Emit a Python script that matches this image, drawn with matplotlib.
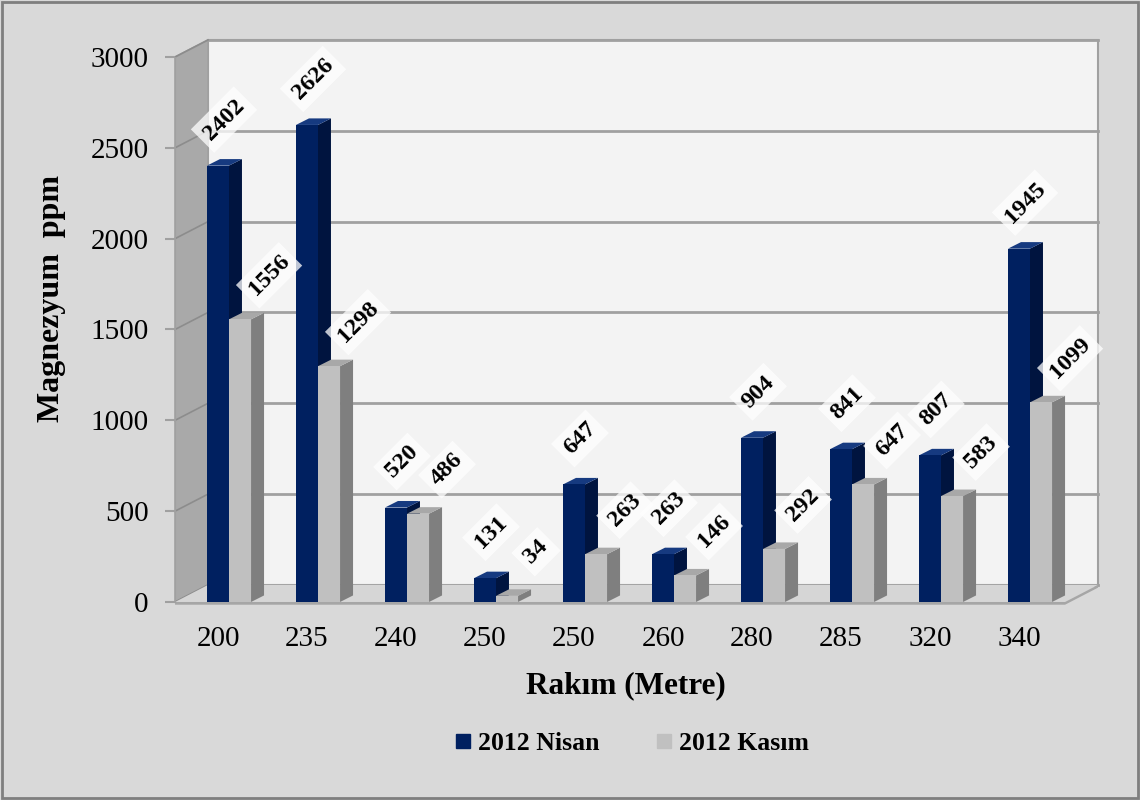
import matplotlib.pyplot as plt
from matplotlib.lines import Line2D
from matplotlib.patches import Polygon, Rectangle

# data
altitudes = ["200", "235", "240", "250", "250", "260", "280", "285", "320", "340"]
nisan = [2402, 2626, 520, 131, 647, 263, 904, 841, 807, 1945]
kasim = [1556, 1298, 486, 34, 263, 146, 292, 647, 583, 1099]
series_names = ["2012 Nisan", "2012 Kasım"]
y_ticks = [0, 500, 1000, 1500, 2000, 2500, 3000]

plt.rcParams["font.family"] = ["Liberation Serif", "DejaVu Serif"]

# front, side, top colours
NAVY = ("#002060", "#00143f", "#163a80")
GREY = ("#c0c0c0", "#7f7f7f", "#a8a8a8")
GRID = "#a0a0a0"

# fake 3d geometry, in data units (x: one category, y: ppm)
BAR_W = 0.247
BAR_DX, BAR_DY = 0.146, 36
WALL_DX, WALL_DY = 0.371, 94
XL, XR = -0.483, 9.517
YTOP = y_ticks[-1]

fig = plt.figure(figsize=(11.4, 8), dpi=100, facecolor="#d9d9d9")
ax = fig.add_axes([160 / 1140, 185 / 800, 950 / 1140, 585 / 800])
ax.set_xlim(-0.652, 10.022)
ax.set_ylim(-71.6, 3148.6)
ax.set_facecolor("none")

# walls + floor
ax.add_patch(Rectangle((XL + WALL_DX, WALL_DY), XR - XL, YTOP, fc="#f3f3f3",
                       ec=GRID, lw=1.5, zorder=0))
ax.add_patch(Polygon([(XL, 0), (XL + WALL_DX, WALL_DY), (XL + WALL_DX, YTOP + WALL_DY),
                      (XL, YTOP)], closed=True, fc="#a9a9a9", ec=GRID, lw=1.2, zorder=0))
for v in y_ticks:
    ax.plot([XL + WALL_DX, XR + WALL_DX], [v + WALL_DY] * 2, color=GRID, lw=2, zorder=1)
    ax.plot([XL, XL + WALL_DX], [v, v + WALL_DY], color="#8c8c8c", lw=1.2, zorder=1)
ax.add_patch(Polygon([(XL, 0), (XR, 0), (XR + WALL_DX, WALL_DY), (XL + WALL_DX, WALL_DY)],
                     closed=True, fc="#d6d6d6", ec="none", zorder=2))
ax.add_patch(Polygon([(XL, 0), (XR, 0), (XR + WALL_DX, WALL_DY), (XR + WALL_DX, WALL_DY - 15),
                      (XR, -15), (XL, -15)], closed=True, fc="#a6a6a6", ec="none", zorder=2))


def draw_bars(values, shift, colors, z, label_off):
    front, side, top = colors
    xs = [i + shift for i in range(len(values))]
    for x, v in zip(xs, values):
        ax.add_patch(Polygon([(x + BAR_W, 0), (x + BAR_W + BAR_DX, BAR_DY),
                              (x + BAR_W + BAR_DX, v + BAR_DY), (x + BAR_W, v)],
                             closed=True, fc=side, ec="none", zorder=z))
        ax.add_patch(Polygon([(x, v), (x + BAR_DX, v + BAR_DY), (x + BAR_W + BAR_DX, v + BAR_DY),
                              (x + BAR_W, v)], closed=True, fc=top, ec="none", zorder=z))
    ax.bar(xs, values, width=BAR_W, align="edge", color=front, zorder=z + 1)
    for x, v in zip(xs, values):
        ax.annotate(str(v), xy=(x + BAR_W / 2, v), xytext=label_off, textcoords="offset pixels",
                    ha="center", va="center", rotation=45, fontsize=17.5, fontweight="bold",
                    bbox=dict(boxstyle="square,pad=0.25", fc="white", ec="none", alpha=0.75),
                    zorder=10)


draw_bars(nisan, -0.124, NAVY, 3, (6, 46))
draw_bars(kasim, 0.124, GREY, 5, (29, 44))

# axes
for s in ["top", "right", "bottom"]:
    ax.spines[s].set_visible(False)
ax.spines["left"].set_position(("data", XL))
ax.spines["left"].set_bounds(0, YTOP)
ax.spines["left"].set_color(GRID)
ax.set_yticks(y_ticks)
ax.tick_params(axis="y", length=7, width=1.5, color=GRID, pad=12, labelsize=21)
ax.set_xticks(range(len(altitudes)))
ax.set_xticklabels(altitudes)
ax.tick_params(axis="x", length=0, pad=8, labelsize=21)

fig.text(626 / 1140, 1 - 686 / 800, "Rakım (Metre)", ha="center", va="center",
         fontsize=22.5, fontweight="bold")
fig.text(52 / 1140, 1 - 298 / 800, "Magnezyum  ppm", ha="center", va="center",
         rotation=90, fontsize=23, fontweight="bold")

handles = [Line2D([], [], marker="s", ls="", markersize=10, color=NAVY[0]),
           Line2D([], [], marker="s", ls="", markersize=10, color=GREY[0])]
fig.legend(handles, series_names, loc="center", bbox_to_anchor=(632 / 1140, 1 - 743 / 800),
           ncol=2, frameon=False, handlelength=0.6, handletextpad=0.3, columnspacing=2.2,
           prop={"weight": "bold", "size": 18.5})

fig.patches.append(Rectangle((0.002, 0.003), 0.996, 0.994, transform=fig.transFigure,
                             fill=False, ec="#7f7f7f", lw=2))

fig.savefig("out.png", dpi=100, facecolor=fig.get_facecolor())
